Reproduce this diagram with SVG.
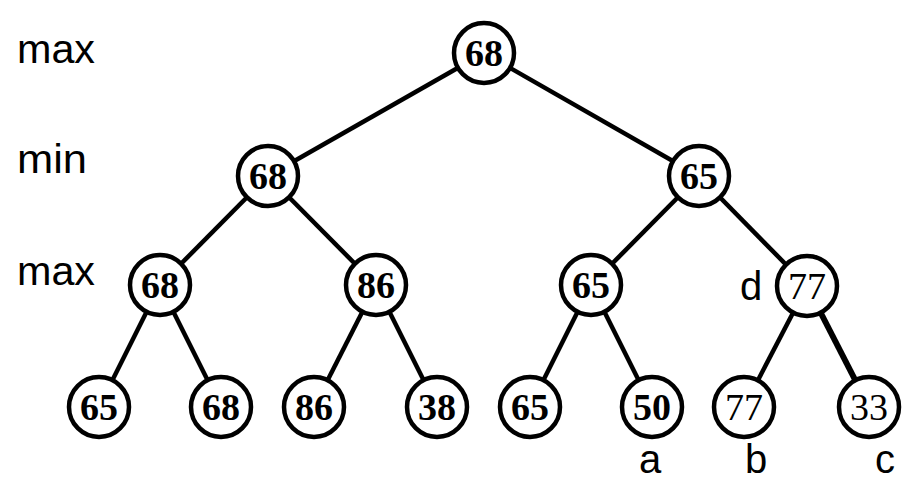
<svg xmlns="http://www.w3.org/2000/svg" width="910" height="481" viewBox="0 0 910 481">
<style>
.e{stroke:#000;stroke-width:4.5;fill:none}
.n circle{fill:#fff;stroke:#000;stroke-width:4.5}
.n text{font-family:"Liberation Serif","Times New Roman",serif;font-weight:bold;font-size:38px;text-anchor:middle;fill:#000}
.n text.r{font-weight:normal}
.lb{font-family:"Liberation Sans",Arial,sans-serif;font-size:40px;fill:#000}
</style>
<rect width="910" height="481" fill="#fff"/>
<g id="connectors">
<line class="e" x1="484" y1="53" x2="268" y2="176"/>
<line class="e" x1="484" y1="53" x2="699" y2="176"/>
<line class="e" x1="268" y1="176" x2="160" y2="285"/>
<line class="e" x1="268" y1="176" x2="376" y2="285"/>
<line class="e" x1="699" y1="176" x2="591" y2="285"/>
<line class="e" x1="699" y1="176" x2="807" y2="286"/>
<line class="e" x1="160" y1="285" x2="99" y2="407"/>
<line class="e" x1="160" y1="285" x2="221" y2="407"/>
<line class="e" x1="376" y1="285" x2="314" y2="407"/>
<line class="e" x1="376" y1="285" x2="437" y2="407"/>
<line class="e" x1="591" y1="285" x2="530" y2="407"/>
<line class="e" x1="591" y1="285" x2="652" y2="407"/>
<line class="e" x1="807" y1="286" x2="744" y2="407"/>
<line class="e" x1="807" y1="286" x2="869" y2="407" style="stroke-width:6"/>
</g>
<g id="n-root" class="n"><circle cx="484" cy="53" r="30"/><text x="484" y="66">68</text></g>
<g id="n-min-l" class="n"><circle cx="268" cy="176" r="30"/><text x="268" y="189">68</text></g>
<g id="n-min-r" class="n"><circle cx="699" cy="176" r="30"/><text x="699" y="189">65</text></g>
<g id="n-max-1" class="n"><circle cx="160" cy="285" r="30"/><text x="160" y="298">68</text></g>
<g id="n-max-2" class="n"><circle cx="376" cy="285" r="30"/><text x="376" y="298">86</text></g>
<g id="n-max-3" class="n"><circle cx="591" cy="285" r="30"/><text x="591" y="298">65</text></g>
<g id="n-max-4" class="n"><circle cx="807" cy="286" r="30"/><text class="r" x="807" y="299">77</text></g>
<g id="n-leaf-1" class="n"><circle cx="99" cy="407" r="30"/><text x="99" y="420">65</text></g>
<g id="n-leaf-2" class="n"><circle cx="221" cy="407" r="30"/><text x="221" y="420">68</text></g>
<g id="n-leaf-3" class="n"><circle cx="314" cy="407" r="30"/><text x="314" y="420">86</text></g>
<g id="n-leaf-4" class="n"><circle cx="437" cy="407" r="30"/><text x="437" y="420">38</text></g>
<g id="n-leaf-5" class="n"><circle cx="530" cy="407" r="30"/><text x="530" y="420">65</text></g>
<g id="n-leaf-6" class="n"><circle cx="652" cy="407" r="30"/><text x="652" y="420">50</text></g>
<g id="n-leaf-7" class="n"><circle cx="744" cy="407" r="30"/><text class="r" x="744" y="420">77</text></g>
<g id="n-leaf-8" class="n"><circle cx="869" cy="407" r="30"/><text class="r" x="869" y="420">33</text></g>
<g id="labels">
<text class="lb" x="17" y="63" textLength="78" lengthAdjust="spacingAndGlyphs">max</text>
<text class="lb" x="17" y="173" textLength="70" lengthAdjust="spacingAndGlyphs">min</text>
<text class="lb" x="17" y="285" textLength="78" lengthAdjust="spacingAndGlyphs">max</text>
<text class="lb" x="740" y="300">d</text>
<text class="lb" x="639" y="473">a</text>
<text class="lb" x="745" y="473">b</text>
<text class="lb" x="875" y="473">c</text>
</g>
</svg>
